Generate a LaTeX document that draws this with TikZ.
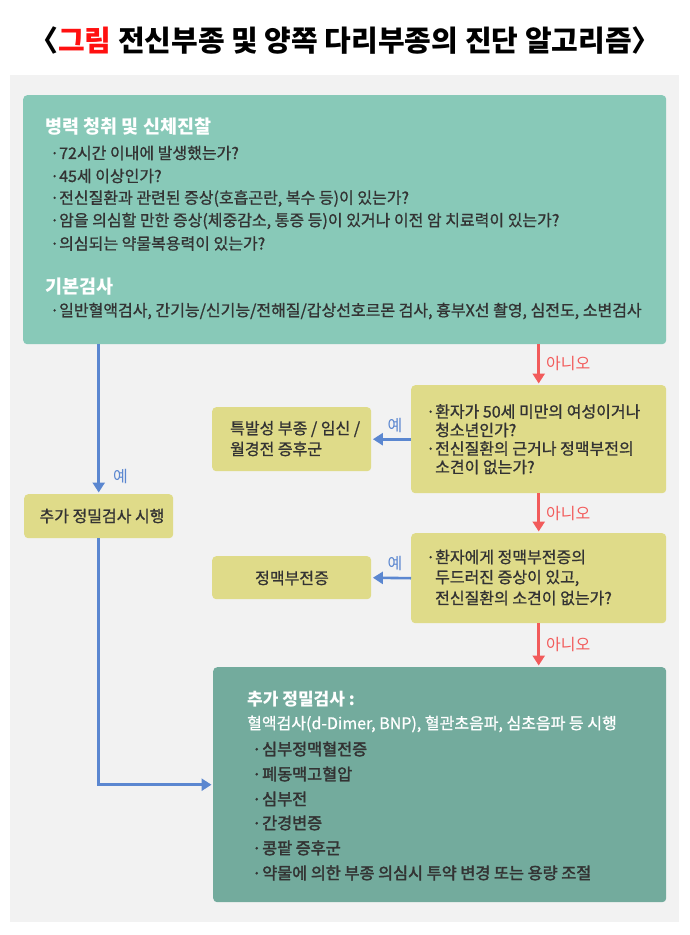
\documentclass[tikz,border=0pt]{standalone}
\usepackage{fontspec}
\setmainfont{Noto Sans CJK KR}
\newfontfamily\med[FakeBold=1.0]{Noto Sans CJK KR}
\newfontfamily\semib[FakeBold=2.2]{Noto Sans CJK KR}
\usetikzlibrary{arrows.meta}
\definecolor{cPanel}{HTML}{F2F2F2}
\definecolor{cTop}{HTML}{88C9B8}
\definecolor{cYel}{HTML}{DFDB89}
\definecolor{cBot}{HTML}{73AB9D}
\definecolor{cBlue}{HTML}{5B87D0}
\definecolor{cRed}{HTML}{F25B5B}
\definecolor{cDark}{HTML}{333333}
\definecolor{cTitleRed}{HTML}{FF1010}
\newcommand{\bul}[1]{\makebox[#1][l]{·}}
\begin{document}
\begin{tikzpicture}[x=1pt,y=-1pt,
  boxsty/.style={rounded corners=4pt, inner sep=0pt, anchor=north west, draw=none},
  txt/.style={anchor=west, inner sep=0pt, text=cDark, font=\med\fontsize{16}{19}\selectfont},
  wtxt/.style={txt, text=white},
  btxt/.style={txt, font=\semib\fontsize{16.3}{19}\selectfont},
  hd/.style={anchor=west, inner sep=0pt, text=white, font=\fontsize{18.5}{22}\selectfont\bfseries},
  ctxt/.style={txt, anchor=center},
  bluelab/.style={inner sep=0pt, text=cBlue, font=\fontsize{16}{19}\selectfont},
  redlab/.style={anchor=west, inner sep=0pt, text=cRed, font=\fontsize{16}{19}\selectfont},
  bluearr/.style={draw=cBlue, line width=2.6pt, -{Triangle[length=10pt,width=12pt]}, shorten >=1.5pt},
  redarr/.style={draw=cRed, line width=2.8pt, -{Triangle[length=10pt,width=12pt]}, shorten >=1.5pt}
]
\useasboundingbox (0,0) rectangle (690,935);
\fill[white] (0,0) rectangle (690,935);
\fill[cPanel] (10,75) rectangle (679,922);

% title
\node[inner sep=0pt, font=\fontsize{29}{34}\selectfont\bfseries] (title) at (345,41)
  {〈\textcolor{cTitleRed}{그림} 전신부종 및 양쪽 다리부종의 진단 알고리즘〉};

% boxes
\node[boxsty, fill=cTop, minimum width=643pt, minimum height=249pt] (top) at (23,95) {};
\node[boxsty, fill=cYel, minimum width=149pt, minimum height=44pt] (chuga) at (24,494) {};
\node[boxsty, fill=cYel, minimum width=255pt, minimum height=108pt] (q1) at (411,385) {};
\node[boxsty, fill=cYel, minimum width=159pt, minimum height=64pt] (left1) at (212,407) {};
\node[boxsty, fill=cYel, minimum width=255pt, minimum height=90pt] (q2) at (411,533) {};
\node[boxsty, fill=cYel, minimum width=159pt, minimum height=43pt] (left2) at (212,556) {};
\node[boxsty, fill=cBot, minimum width=453pt, minimum height=235pt] (bot) at (213,667) {};

% top box text
\node[hd] (h1) at (45,127) {병력 청취 및 신체진찰};
\node[txt] (t1) at (50,153) {\bul{9pt}72시간 이내에 발생했는가?};
\node[txt] (t2) at (50,176) {\bul{9pt}45세 이상인가?};
\node[txt] (t3) at (50,198.5) {\bul{9pt}전신질환과 관련된 증상(호흡곤란, 복수 등)이 있는가?};
\node[txt] (t4) at (50,221) {\bul{9pt}암을 의심할 만한 증상(체중감소, 통증 등)이 있거나 이전 암 치료력이 있는가?};
\node[txt] (t5) at (50,243.5) {\bul{9pt}의심되는 약물복용력이 있는가?};
\node[hd] (h2) at (45,287) {기본검사};
\node[txt] (t6) at (50,311) {\bul{9pt}일반혈액검사, 간기능/신기능/전해질/갑상선호르몬 검사, 흉부X선 촬영, 심전도, 소변검사};

% chuga text
\node[ctxt] (chugat) at (102,516) {추가 정밀검사 시행};

% q1 text
\node[txt] (q1a) at (426,411.5) {\bul{9pt}환자가 50세 미만의 여성이거나};
\node[txt] (q1b) at (435,430) {청소년인가?};
\node[txt] (q1c) at (426,448.5) {\bul{9pt}전신질환의 근거나 정맥부전의};
\node[txt] (q1d) at (435,467) {소견이 없는가?};

% left1 text
\node[txt] (l1a) at (230,429) {특발성 부종 / 임신 /};
\node[txt] (l1b) at (230,449) {월경전 증후군};

% q2 text
\node[txt] (q2a) at (426,557) {\bul{9pt}환자에게 정맥부전증의};
\node[txt] (q2b) at (435,578) {두드러진 증상이 있고,};
\node[txt] (q2c) at (435,598) {전신질환의 소견이 없는가?};

% left2 text
\node[ctxt] (l2a) at (292,578) {정맥부전증};

% bottom box text
\node[hd, font=\fontsize{17}{20}\selectfont\bfseries] (bh) at (247,699) {추가 정밀검사 :};
\node[wtxt] (bl) at (247,724) {혈액검사(d-Dimer, BNP), 혈관초음파, 심초음파 등 시행};
\node[btxt] (b1) at (252,749) {\bul{10pt}심부정맥혈전증};
\node[btxt] (b2) at (252,774) {\bul{10pt}폐동맥고혈압};
\node[btxt] (b3) at (252,799) {\bul{10pt}심부전};
\node[btxt] (b4) at (252,823) {\bul{10pt}간경변증};
\node[btxt] (b5) at (252,848) {\bul{10pt}콩팥 증후군};
\node[btxt] (b6) at (252,873) {\bul{10pt}약물에 의한 부종 의심시 투약 변경 또는 용량 조절};

% connectors
\draw[bluearr] (top.south -| chuga.north) -- (chuga.north);
\draw[bluearr] (chuga.south) |- (bot.west);
\draw[redarr] (top.south -| q1.north) -- (q1.north);
\draw[bluearr] (q1.west) -- (left1.east);
\draw[redarr] (q1.south) -- (q2.north);
\draw[bluearr] (q2.west) -- (left2.east);
\draw[redarr] (q2.south) -- (q2.south |- bot.north);

% labels
\node[bluelab, anchor=west] (y1) at (113,477) {예};
\node[bluelab] (y2) at (395,426) {예};
\node[bluelab] (y3) at (395,563) {예};
\node[redlab] (n1) at (546,364) {아니오};
\node[redlab] (n2) at (546,514) {아니오};
\node[redlab] (n3) at (546,644) {아니오};
\end{tikzpicture}
\end{document}
